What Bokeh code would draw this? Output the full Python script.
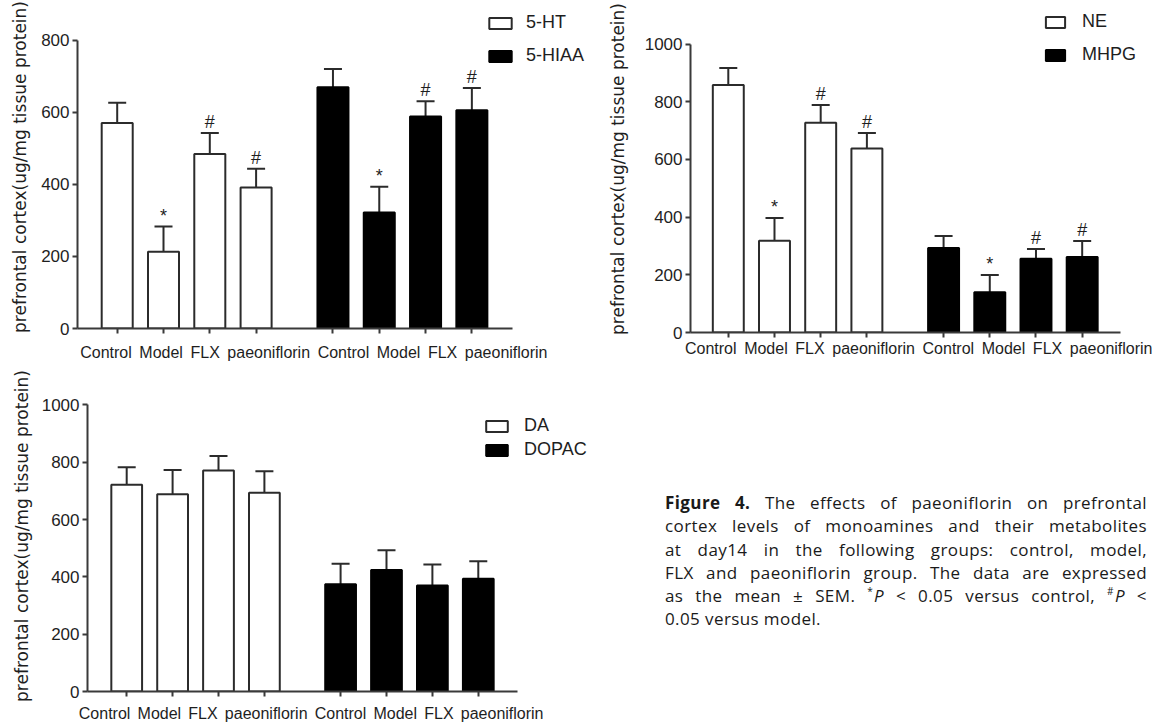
from bokeh.plotting import figure
from bokeh.models import (ColumnDataSource, Whisker, TeeHead, FixedTicker, CustomJSTickFormatter,
                          Legend, LegendItem, Div, Range1d)
from bokeh.layouts import row, column
from bokeh.embed import file_html
from bokeh.resources import INLINE
from bokeh.core.properties import value

# ---------------- data ----------------
groups = ["Control", "Model", "FLX", "paeoniflorin"]

ht5_mean = [571, 213, 485, 392]
ht5_sem = [56, 70, 58, 52]
ht5_sig = ["", "*", "#", "#"]
hiaa_mean = [670, 322, 589, 606]
hiaa_sem = [51, 72, 42, 62]
hiaa_sig = ["", "*", "#", "#"]

ne_mean = [858, 318, 727, 638]
ne_sem = [59, 79, 62, 54]
ne_sig = ["", "*", "#", "#"]
mhpg_mean = [293, 140, 256, 262]
mhpg_sem = [42, 59, 34, 55]
mhpg_sig = ["", "*", "#", "#"]

da_mean = [721, 688, 771, 693]
da_sem = [61, 85, 51, 75]
da_sig = ["", "", "", ""]
dopac_mean = [374, 424, 370, 393]
dopac_sem = [72, 69, 73, 61]
dopac_sig = ["", "", "", ""]

yticks_800 = [0, 200, 400, 600, 800]
yticks_1000 = [0, 200, 400, 600, 800, 1000]
ylabel = "prefrontal cortex(ug/mg tissue protein)"

caption_lines = [
    "<b>Figure 4.</b> The effects of paeoniflorin on prefrontal",
    "cortex levels of monoamines and their metabolites",
    "at day14 in the following groups: control, model,",
    "FLX and paeoniflorin group. The data are expressed",
    "as the mean &plusmn; SEM. <sup>*</sup><i>P</i> &lt; 0.05 versus control, <sup>#</sup><i>P</i> &lt;",
    "0.05 versus model.",
]

# ---------------- styling ----------------
GAP = 0.66
BAR_W = 0.67
INK = "#2b2b2b"
AXC = "#3a3a3a"
TXT = "#1e1e1e"
ARIAL = "Liberation Sans"
LABEL_PX = 16
# Liberation Sans advance widths (em) for the letters of the group labels
CHAR_W = {"C": .722, "o": .556, "n": .556, "t": .278, "r": .333, "l": .222, "M": .833,
          "d": .556, "e": .556, "F": .611, "L": .556, "X": .667, "p": .556, "a": .556,
          "i": .222, "f": .278}


def label_positions(labels, start_px, end_px, frame_left_px, x0, pitch):
    """Group labels are typed as one evenly spaced line under the bars."""
    widths = [sum(CHAR_W[c] for c in s) * LABEL_PX for s in labels]
    gap = (end_px - start_px - sum(widths)) / (len(labels) - 1)
    out, cur = [], start_px
    for w in widths:
        out.append(x0 + (cur + w / 2 - frame_left_px) / pitch)
        cur += w + gap
    return out


def make_panel(name_a, mean_a, sem_a, sig_a, name_b, mean_b, sem_b, sig_b, yticks, g):
    n = len(groups)
    xa = [1 + i for i in range(n)]
    xb = [1 + n + GAP + i for i in range(n)]
    positions = xa + xb
    labels = groups + groups

    fw = g["fw"]
    fh = g["fh"]
    x1 = g["x0"] + fw / g["pitch"]
    p = figure(frame_width=fw, frame_height=fh,
               min_border_left=g["bl"], min_border_right=0,
               min_border_top=g["bt"], min_border_bottom=g["bb"],
               x_range=Range1d(g["x0"], x1), y_range=Range1d(0, g["ytop"]),
               output_backend="svg", toolbar_location=None)
    p.xgrid.visible = False
    p.ygrid.visible = False
    p.outline_line_color = None
    p.background_fill_color = "white"
    p.border_fill_color = "white"

    src_a = ColumnDataSource(dict(x=xa, top=mean_a,
                                  upper=[m + s for m, s in zip(mean_a, sem_a)], sig=sig_a))
    src_b = ColumnDataSource(dict(x=xb, top=mean_b,
                                  upper=[m + s for m, s in zip(mean_b, sem_b)], sig=sig_b))

    for src in (src_a, src_b):
        p.add_layout(Whisker(source=src, base="x", lower="top", upper="upper",
                             dimension="height", line_color=INK, line_width=2,
                             lower_head=None,
                             upper_head=TeeHead(size=18, line_color=INK, line_width=2)))

    ra = p.vbar(x="x", top="top", width=BAR_W, source=src_a,
                fill_color="white", line_color=INK, line_width=2)
    rb = p.vbar(x="x", top="top", width=BAR_W, source=src_b,
                fill_color="black", line_color="black", line_width=2)

    for src in (src_a, src_b):
        p.text(x="x", y="upper", text="sig", source=src, text_align="center",
               text_baseline="alphabetic", y_offset=-11,
               text_font=value(ARIAL), text_font_size="18px", text_color=TXT)

    # x axis: tick marks under the bars (minor ticks), group labels on one typed line (major)
    lab_pos = label_positions(labels, g["lab0"], g["lab1"], g["fl"], g["x0"], g["pitch"])
    xax = p.xaxis[0]
    xax.bounds = (g["x0"], g["xend"])
    xax.ticker = FixedTicker(ticks=lab_pos, minor_ticks=positions)
    xax.formatter = CustomJSTickFormatter(
        args=dict(pos=lab_pos, labels=labels),
        code="const i = pos.findIndex(t => Math.abs(t - tick) < 1e-6); return i < 0 ? '' : labels[i];")
    xax.axis_line_width = 2
    xax.axis_line_color = AXC
    xax.major_tick_line_color = None
    xax.major_tick_out = 5
    xax.major_tick_in = 0
    xax.minor_tick_line_color = AXC
    xax.minor_tick_line_width = 2
    xax.minor_tick_out = 5
    xax.minor_tick_in = 0
    xax.major_label_standoff = g["xstand"]
    xax.major_label_text_font = ARIAL
    xax.major_label_text_font_size = "%dpx" % LABEL_PX
    xax.major_label_text_color = TXT

    yax = p.yaxis[0]
    yax.bounds = (0, yticks[-1])
    yax.ticker = FixedTicker(ticks=yticks)
    yax.axis_line_width = 2
    yax.axis_line_color = AXC
    yax.major_tick_line_width = 2
    yax.major_tick_line_color = AXC
    yax.major_tick_out = 5
    yax.major_tick_in = 0
    yax.minor_tick_line_color = None
    yax.major_label_text_color = TXT
    yax.major_label_text_font = ARIAL
    yax.major_label_text_font_size = "17px"
    yax.major_label_standoff = 3
    yax.axis_label = ylabel
    yax.axis_label_text_font = "DejaVu Sans"
    yax.axis_label_text_font_size = "17px"
    yax.axis_label_text_font_style = "normal"
    yax.axis_label_text_color = TXT
    yax.axis_label_standoff = g["lstand"]

    legend = Legend(items=[LegendItem(label=name_a, renderers=[ra]),
                           LegendItem(label=name_b, renderers=[rb])],
                    location=g["leg"], orientation="vertical", padding=0, margin=0,
                    spacing=g["lsp"], glyph_width=g["gw"], glyph_height=14, label_height=14,
                    label_standoff=g["lso"], label_text_font=ARIAL, label_text_font_size="18px",
                    label_text_color=TXT, border_line_color=None, background_fill_alpha=0)
    p.add_layout(legend)
    return p


g1 = dict(fw=523, fh=323, bl=77, bt=5, bb=40, pitch=46.3, x0=0.1425, xend=9.53, fl=77,
          lab0=79.7, lab1=547, ytop=897.2, xstand=10, lstand=8, leg=(409, 262), lsp=12,
          gw=28, lso=12)
g2 = dict(fw=468, fh=327, bl=90, bt=5, bb=36, pitch=46.2, x0=0.182, xend=9.50, fl=690,
          lab0=684.5, lab1=1152, ytop=1134, xstand=2, lstand=14, leg=(353, 267), lsp=12,
          gw=24, lso=15)
g3 = dict(fw=513, fh=311, bl=87, bt=12, bb=32, pitch=45.9, x0=0.146, xend=9.52, fl=87,
          lab0=78.3, lab1=543, ytop=1085, xstand=8, lstand=7, leg=(396, 231), lsp=3,
          gw=27, lso=14)

p1 = make_panel("5-HT", ht5_mean, ht5_sem, ht5_sig, "5-HIAA", hiaa_mean, hiaa_sem, hiaa_sig, yticks_800, g1)
p2 = make_panel("NE", ne_mean, ne_sem, ne_sig, "MHPG", mhpg_mean, mhpg_sem, mhpg_sig, yticks_1000, g2)
p3 = make_panel("DA", da_mean, da_sem, da_sig, "DOPAC", dopac_mean, dopac_sem, dopac_sig, yticks_1000, g3)

nl = len(caption_lines)
body = "".join(
    '<div style="text-align:justify;text-align-last:%s">%s</div>'
    % ("justify" if i < nl - 1 else "left", line)
    for i, line in enumerate(caption_lines))
body = body.replace("<sup>", '<sup style="font-size:10px;line-height:0;vertical-align:7px;margin-right:1px">')
html = ('<div style="font-family:\'Open Sans\',sans-serif;font-size:17px;letter-spacing:0.4px;'
        'line-height:23.3px;color:#1a1a1a;width:482px">' + body + "</div>")
cap = Div(text=html, width=482, height=145, margin=(123, 0, 0, 665 - 600))

layout = column(row(p1, p2), row(p3, cap))

open("out.html", "w").write(file_html(layout, INLINE))
